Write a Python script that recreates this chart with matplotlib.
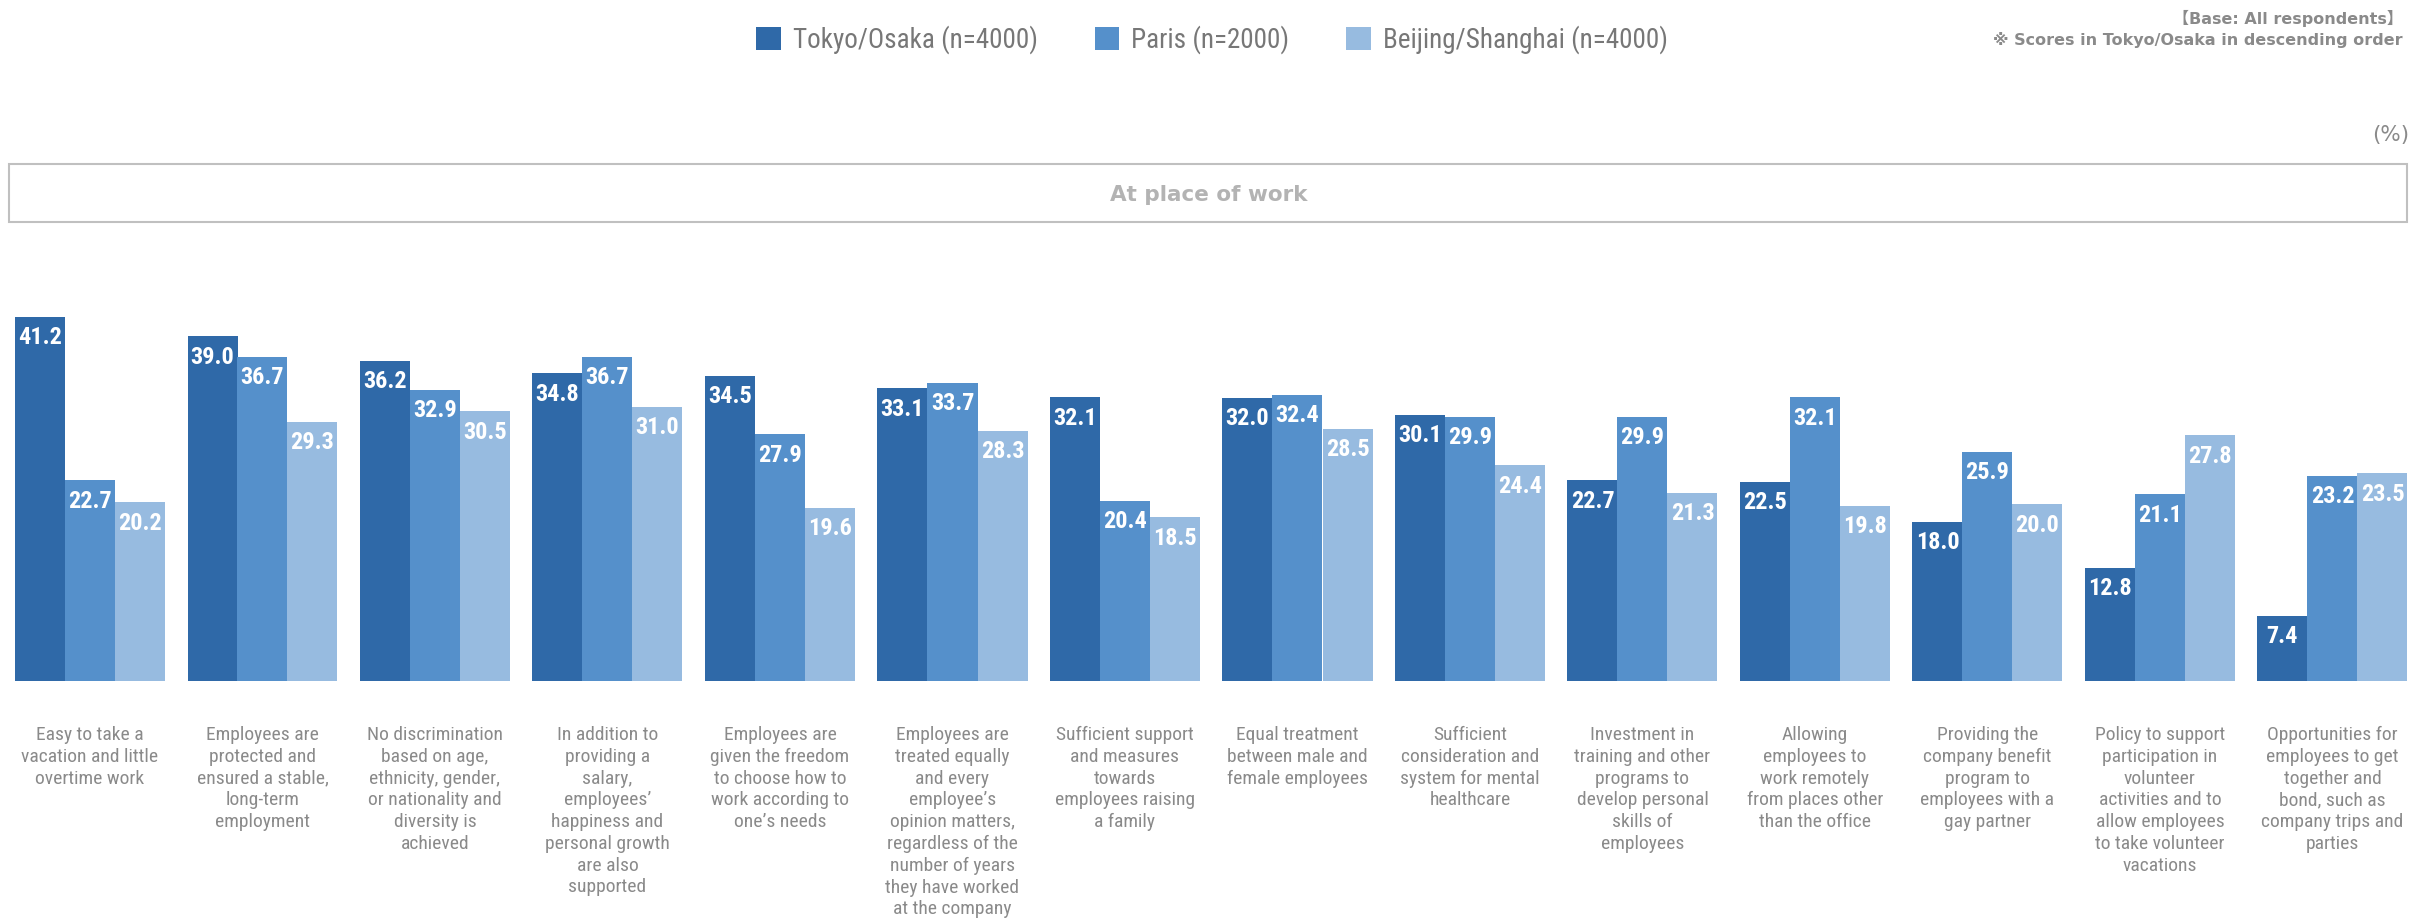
import matplotlib
matplotlib.use('Agg')
import matplotlib.pyplot as plt
from matplotlib import font_manager
from matplotlib.patches import Rectangle
from matplotlib.transforms import blended_transform_factory
import numpy as np

categories = [
    "Easy to take a\nvacation and little\novertime work",
    "Employees are\nprotected and\nensured a stable,\nlong-term\nemployment",
    "No discrimination\nbased on age,\nethnicity, gender,\nor nationality and\ndiversity is\nachieved",
    "In addition to\nproviding a\nsalary,\nemployees\u2019\nhappiness and\npersonal growth\nare also\nsupported",
    "Employees are\ngiven the freedom\nto choose how to\nwork according to\none\u2019s needs",
    "Employees are\ntreated equally\nand every\nemployee\u2019s\nopinion matters,\nregardless of the\nnumber of years\nthey have worked\nat the company",
    "Sufficient support\nand measures\ntowards\nemployees raising\na family",
    "Equal treatment\nbetween male and\nfemale employees",
    "Sufficient\nconsideration and\nsystem for mental\nhealthcare",
    "Investment in\ntraining and other\nprograms to\ndevelop personal\nskills of\nemployees",
    "Allowing\nemployees to\nwork remotely\nfrom places other\nthan the office",
    "Providing the\ncompany benefit\nprogram to\nemployees with a\ngay partner",
    "Policy to support\nparticipation in\nvolunteer\nactivities and to\nallow employees\nto take volunteer\nvacations",
    "Opportunities for\nemployees to get\ntogether and\nbond, such as\ncompany trips and\nparties",
]
series_names = ["Tokyo/Osaka (n=4000)", "Paris (n=2000)", "Beijing/Shanghai (n=4000)"]
tokyo = [41.2, 39.0, 36.2, 34.8, 34.5, 33.1, 32.1, 32.0, 30.1, 22.7, 22.5, 18.0, 12.8, 7.4]
paris = [22.7, 36.7, 32.9, 36.7, 27.9, 33.7, 20.4, 32.4, 29.9, 29.9, 32.1, 25.9, 21.1, 23.2]
beijing = [20.2, 29.3, 30.5, 31.0, 19.6, 28.3, 18.5, 28.5, 24.4, 21.3, 19.8, 20.0, 27.8, 23.5]
colors = ["#2f69a8", "#5590cb", "#97bbe0"]

names = {f.name for f in font_manager.fontManager.ttflist}
def pick(*cands):
    for c in cands:
        if c in names:
            return c
    return "DejaVu Sans"

narrow = pick("Liberation Sans Narrow", "Roboto Condensed", "Open Sans Condensed", "Roboto", "Liberation Sans")

W, H = 2433, 923
fig = plt.figure(figsize=(W / 100, H / 100), dpi=100)

# bars axes: bottom at 681px from top, 8.84 px per unit
pitch = 172.5
ax = fig.add_axes([0, (H - 681) / H, 1, 400 / H])
ax.set_xlim(-90 / pitch, (W - 90) / pitch)
ax.set_ylim(0, 400 / 8.84)
ax.axis('off')

x = np.arange(len(categories))
bw = 50 / pitch
for k, vals in enumerate([tokyo, paris, beijing]):
    ax.bar(x + (k - 1) * bw, vals, bw, color=colors[k], label=series_names[k], linewidth=0)
    for xi, v in zip(x + (k - 1) * bw, vals):
        ax.annotate("%.1f" % v, (xi, v), xytext=(0, -15), textcoords='offset points',
                    ha='center', va='center', color='white', fontsize=17.5,
                    fontweight='bold', family=narrow)

trans = blended_transform_factory(ax.transData, fig.transFigure)
for xi, lab in zip(x, categories):
    ax.text(xi, (H - 726) / H, lab, transform=trans, ha='center', va='top',
            fontsize=14, color='#8a8a8a', family=narrow, linespacing=1.27)

# header box
fig.patches.append(Rectangle((9 / W, (H - 222) / H), (2407 - 9) / W, 58 / H,
                             transform=fig.transFigure, fill=False,
                             edgecolor='#c0c0c0', linewidth=1.5))
fig.text(1209 / W, (H - 195) / H, "At place of work", ha='center', va='center',
         fontsize=15.5, color='#b3b3b3', fontweight='bold')
fig.text(2409 / W, (H - 135) / H, "(%)", ha='right', va='center',
         fontsize=15.5, color='#8a8a8a')

# notes top right
fig.text(2403 / W, (H - 18) / H, "\u3010Base: All respondents\u3011", ha='right', va='center',
         fontsize=11.5, color='#8a8a8a', fontweight='bold',
         family=['DejaVu Sans', 'Noto Sans CJK JP'])
fig.text(2403 / W, (H - 40) / H, "\u203b Scores in Tokyo/Osaka in descending order", ha='right',
         va='center', fontsize=11.5, color='#8a8a8a', fontweight='bold',
         family=['DejaVu Sans', 'Noto Sans CJK JP'])

# legend
leg = fig.legend(loc='center', bbox_to_anchor=(1212 / W, (H - 40) / H), ncol=3,
                 frameon=False, handlelength=0.9, handleheight=0.9,
                 handletextpad=0.45, columnspacing=2.1,
                 prop={'family': narrow, 'size': 19.5})
for t in leg.get_texts():
    t.set_color('#777777')

fig.savefig('out.png', dpi=100)
